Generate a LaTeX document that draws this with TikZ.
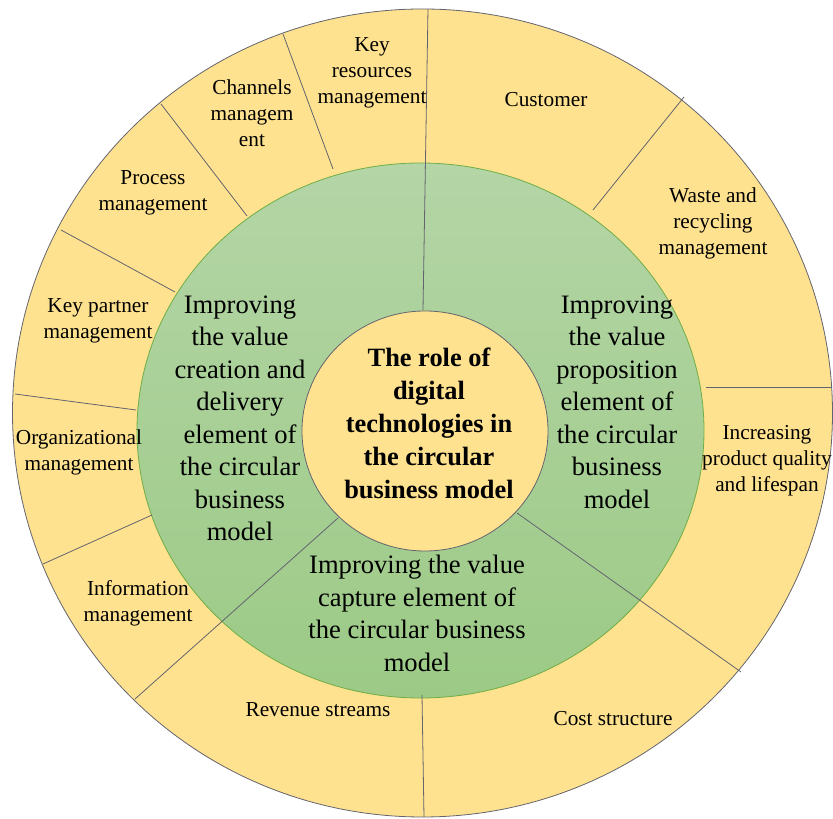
\documentclass[tikz,border=0pt]{standalone}
\usepackage{fontspec}
\setmainfont{Liberation Serif}
\usepackage{tikz}
\usetikzlibrary{shapes}
\definecolor{ringyellow}{RGB}{254,226,143}
\definecolor{greentop}{RGB}{180,213,166}
\definecolor{greenbot}{RGB}{156,202,134}
\definecolor{greenline}{RGB}{112,173,71}
\definecolor{linegray}{RGB}{100,100,110}
\tikzstyle{ring}=[draw=linegray,fill=ringyellow,line width=0.8pt]
\tikzstyle{band}=[draw=greenline,top color=greentop,bottom color=greenbot,line width=0.8pt]
\tikzstyle{divider} = [draw=linegray,line width=0.8pt]
\tikzstyle{small}=[align=center,inner sep=0pt,font=\fontsize{21.3}{26}\selectfont]
\tikzstyle{large}=[align=center,inner sep=0pt,font=\fontsize{26.6}{32.5}\selectfont]
\tikzstyle{core}=[align=center,inner sep=0pt,font=\fontsize{26.4}{33}\selectfont\bfseries]

\begin{document}
\begin{tikzpicture}[x=1pt,y=1pt]
    \useasboundingbox (0,0) rectangle (833,819);
    % First we draw the outer ring and the green band
    \path[ring] (422.5,406) ellipse [x radius=410,y radius=404];
    \path[band] (420.5,388.5) ellipse [x radius=283.5,y radius=267.5];
    % Dividers between the sectors
    \foreach \from/\to in {{(423,509)/(428,810)}, {(338,301)/(135,120)},
        {(517,306)/(741,147)}, {(422,124)/(424,2)}, {(333,650)/(283,785)},
        {(247,603)/(161,715)}, {(175,527)/(61,589)}, {(136,409)/(15,425)},
        {(152,304)/(43,255)}, {(706,432)/(832,432)}, {(593,609)/(684,722)}}
        \path[divider] \from -- \to;
    % Inner disc
    \path[ring] (425,388) ellipse [x radius=123,y radius=120];
    % Labels of the outer ring
    \foreach \pos/\name/\txt in {{(372,746)/keyres/{Key\\resources\\management}},
        {(252,706)/channels/{Channels\\managem\\ent}},
        {(546,719.5)/customer/{Customer}},
        {(153,626)/process/{Process\\management}},
        {(713,595.5)/waste/{Waste and\\recycling\\management}},
        {(98,498.5)/partner/{Key partner\\management}},
        {(79,367)/organiz/{Organizational\\management}},
        {(767,358)/quality/{Increasing\\product quality\\and lifespan}},
        {(138,216)/info/{Information\\management}},
        {(318,109.5)/revenue/{Revenue streams}},
        {(613,100.5)/cost/{Cost structure}}}
        \node[small] (\name) at \pos {\txt};
    % Labels of the green band
    \node[large] (creation) at (240,400.5) {Improving\\the value\\creation and\\delivery\\element of\\the circular\\business\\model};
    \node[large] (proposition) at (617,417) {Improving\\the value\\proposition\\element of\\the circular\\business\\model};
    \node[large] (capture) at (417,205.5) {Improving the value\\capture element of\\the circular business\\model};
    \node[core] (role) at (429,396) {The role of\\digital\\technologies in\\the circular\\business model};
\end{tikzpicture}
\end{document}
